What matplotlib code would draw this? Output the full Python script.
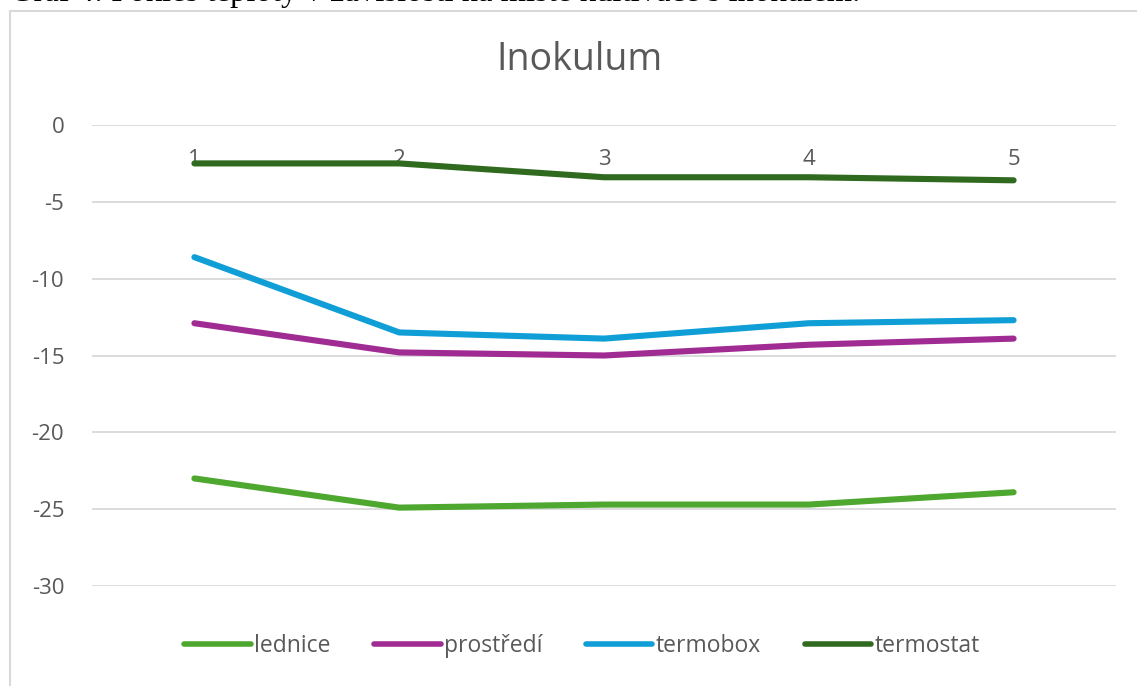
import numpy as np
import matplotlib.pyplot as plt

# DATA:
# ==================================================================
mereni = [1, 2, 3, 4, 5]
lednice = [-23.0, -24.9, -24.7, -24.7, -23.9]
prostredi = [-12.9, -14.8, -15.0, -14.3, -13.9]
termobox = [-8.6, -13.5, -13.9, -12.9, -12.7]
termostat = [-2.5, -2.5, -3.4, -3.4, -3.6]

yticks = [0, -5, -10, -15, -20, -25, -30]

serie = [('lednice', lednice, '#4ea72e'),
         ('prostředí', prostredi, '#a02b93'),
         ('termobox', termobox, '#0f9ed5'),
         ('termostat', termostat, '#2f6a1f')]

W, H = 1137, 686
GRAY = '#595959'
plt.rcParams['font.family'] = ['Open Sans', 'DejaVu Sans']

# PLOT:
# ==================================================================
fig = plt.figure(figsize=(W/100, H/100), dpi=100)

# chart frame (only top and left edge are visible)
fig.add_artist(plt.Line2D([10/W, 10/W], [0, 1 - 11/H], color='#d9d9d9', lw=1.5))
fig.add_artist(plt.Line2D([10/W, 1], [1 - 11/H, 1 - 11/H], color='#d9d9d9', lw=1.5))

# caption of the document, cut off at the top
fig.text(10/W, 1 - 1.5/H, 'Graf 4: Pokles teploty v závislosti na místě kultivace s inokulem.',
         family='Liberation Serif', fontsize=23.5, va='baseline', ha='left', color='black')

ax = fig.add_axes([92/W, 1 - 586/H, (1116 - 92)/W, (586 - 125)/H])

for name, vals, col in serie:
    ax.plot(mereni, vals, color=col, lw=4.4, solid_capstyle='round',
            solid_joinstyle='round', label=name)

ax.set_xlim(0.5, 5.5)
ax.set_ylim(-30, 0)
ax.set_yticks(yticks)
ax.set_yticklabels([str(v) for v in yticks])
ax.grid(axis='y', color='#d9d9d9', lw=1.3)
ax.set_axisbelow(True)

for s in ['top', 'right', 'left']:
    ax.spines[s].set_visible(False)
ax.spines['bottom'].set_position(('data', 0))
ax.spines['bottom'].set_visible(False)

ax.set_xticks(mereni)
ax.tick_params(axis='x', length=0, pad=17, labelsize=16, labelcolor=GRAY)
ax.tick_params(axis='y', length=0, pad=20, labelsize=16, labelcolor=GRAY)

fig.text(579/W, 1 - 60/H, 'Inokulum', ha='center', va='center', fontsize=27, color=GRAY)

leg = fig.legend(loc='center', bbox_to_anchor=(582/W, 1 - 646/H), ncol=4, frameon=False,
                 fontsize=16.5, handlelength=2.9, handletextpad=0.15, columnspacing=1.9,
                 labelcolor=GRAY)
for l in leg.get_lines():
    l.set_linewidth(4.0)

fig.savefig('out.png', dpi=100)
